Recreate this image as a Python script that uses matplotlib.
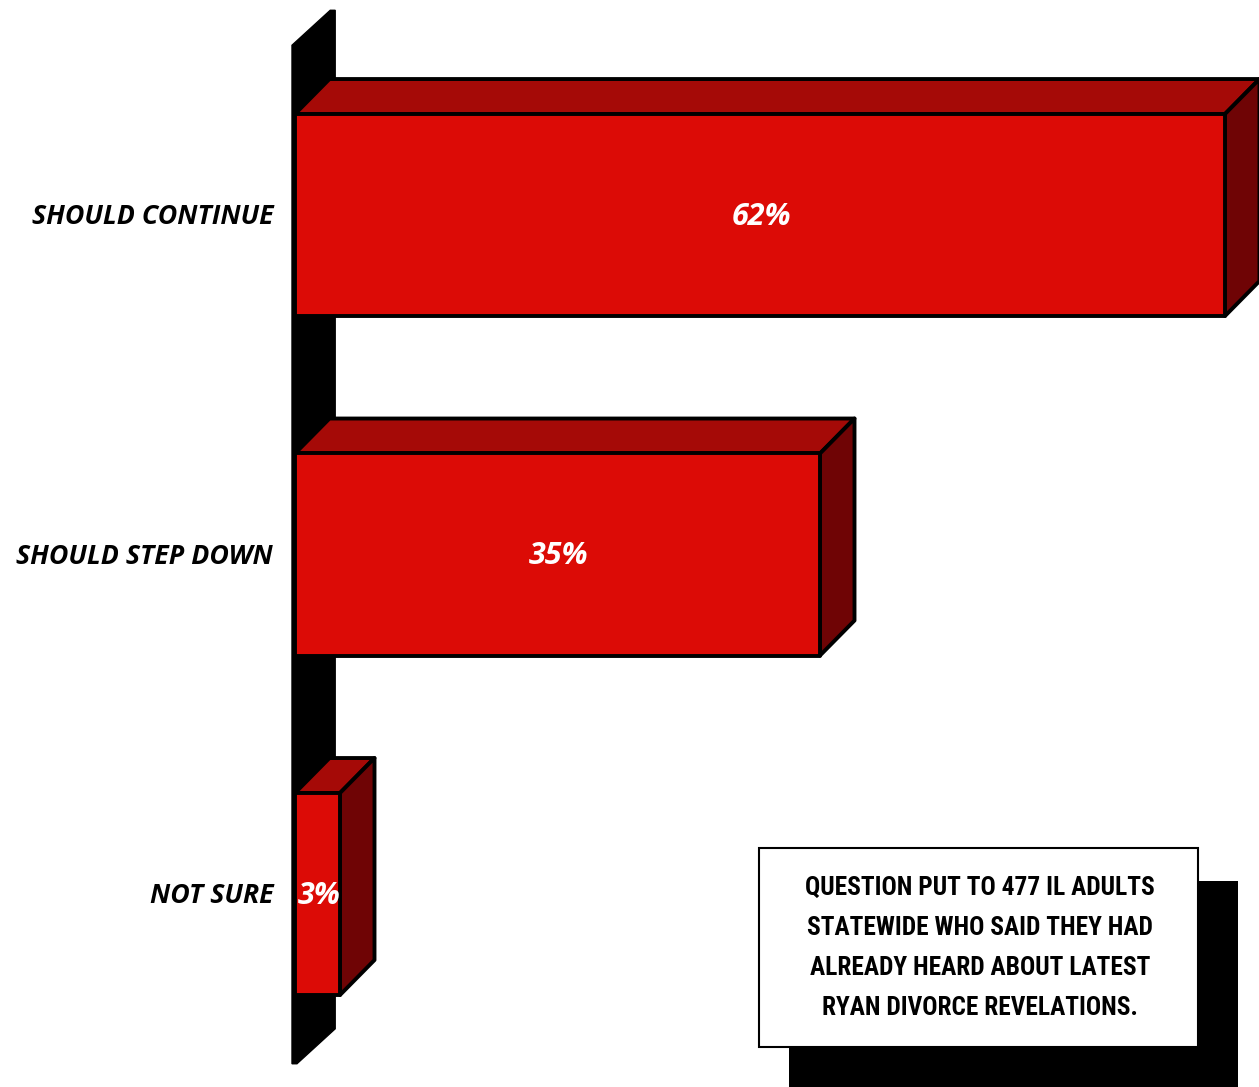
#Poll chart: should Ryan continue or step down

#importing libaries
import matplotlib
matplotlib.use("Agg")
import matplotlib.pyplot as plt
from matplotlib.patches import Polygon, Rectangle
from matplotlib import font_manager

#data
categories = ['SHOULD CONTINUE', 'SHOULD STEP DOWN', 'NOT SURE']
values = [62, 35, 3]
labels = ['62%', '35%', '3%']
note = ['QUESTION PUT TO 477 IL ADULTS',
        'STATEWIDE WHO SAID THEY HAD',
        'ALREADY HEARD ABOUT LATEST',
        'RYAN DIVORCE REVELATIONS.']

#colours
front_c = '#dc0b06'
top_c = '#a50a07'
side_c = '#6f0405'

#pick a narrow font for the note if there is one
names = set(f.name for f in font_manager.fontManager.ttflist)
narrow = 'DejaVu Sans'
for nm in ['Liberation Sans Narrow', 'Roboto Condensed', 'Open Sans Condensed', 'DejaVu Sans Condensed']:
    if nm in names:
        narrow = nm
        break

#figure size in pixels
W, H = 1259, 1087
fig = plt.figure(figsize=(W/100, H/100), dpi=100)
ax = fig.add_axes([0, 0, 1, 1])
ax.set_xlim(-295/15, (W-295)/15)
ax.set_ylim((H-215)/339.5, -215/339.5)
ax.axis('off')

#3d look
dx = 2.3     #depth to the right
dy = -0.103  #depth upwards
h = 0.2975   #half bar height

#the black wall
xl, t, wdx = -0.2, 0.33, 2.55
n = len(categories)
wall = [(xl, n-0.5), (xl, -0.5), (xl+wdx, -0.5+dy), (xl+wdx+t, -0.5+dy),
        (xl+wdx+t, n-0.5+dy), (xl+t, n-0.5)]
ax.add_patch(Polygon(wall, closed=True, fc='black', ec='black', lw=1, zorder=1))

#bars
for i, v in enumerate(values):
    top = [(0, i-h), (v, i-h), (v+dx, i-h+dy), (dx, i-h+dy)]
    side = [(v, i-h), (v+dx, i-h+dy), (v+dx, i+h+dy), (v, i+h)]
    ax.add_patch(Polygon(top, closed=True, fc=top_c, ec='black', lw=2.8,
                         joinstyle='round', zorder=2))
    ax.add_patch(Polygon(side, closed=True, fc=side_c, ec='black', lw=2.8,
                         joinstyle='round', zorder=2))
    ax.add_patch(Rectangle((0, i-h), v, 2*h, fc=front_c, ec='black', lw=2.8,
                           joinstyle='round', zorder=3))
    ax.text(v/2 + 0.1, i + 0.005, labels[i], color='white', fontsize=22, fontweight='bold',
            style='italic', family='Open Sans', ha='center', va='center', zorder=4)
    ax.text(-1.45, i + 0.006, categories[i], color='black', fontsize=19.3, fontweight='bold',
            style='italic', family='Open Sans', ha='right', va='center', zorder=4)

#note box with shadow
ax.add_patch(Rectangle((789/W, 1-1090/H), (1238-789)/W, (1090-881)/H,
                       transform=fig.transFigure, fc='black', ec='none', zorder=5))
ax.add_patch(Rectangle((759/W, 1-1047/H), (1198-759)/W, (1047-848)/H,
                       transform=fig.transFigure, fc='white', ec='black', lw=1.5, zorder=6))
for k, line in enumerate(note):
    ax.text(980/W, 1-(888+40*k)/H, line, transform=fig.transFigure,
            fontsize=18.3, fontweight='bold', family=narrow, stretch='condensed',
            ha='center', va='center', zorder=7)

plt.savefig('out.png', dpi=100)
